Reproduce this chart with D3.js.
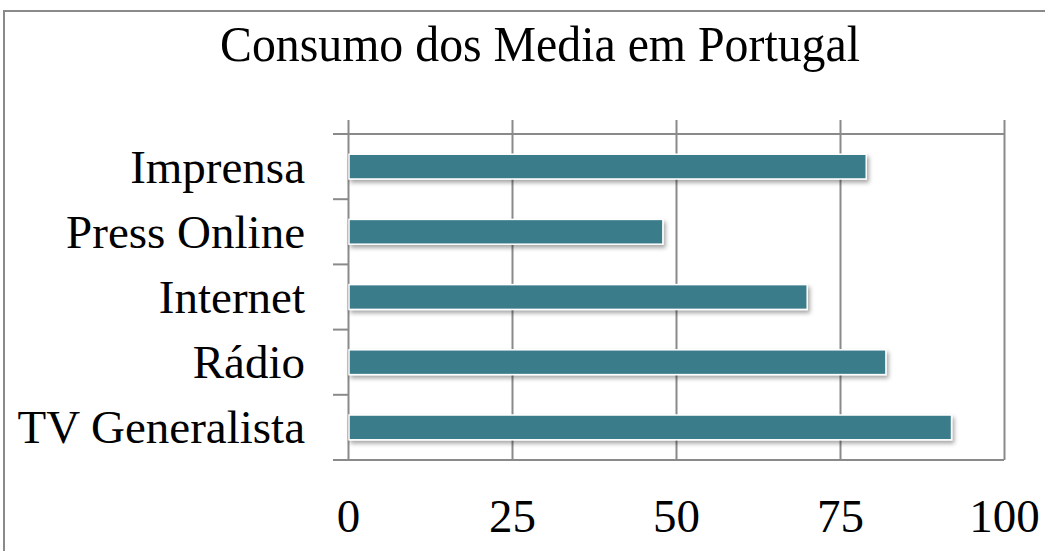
<!DOCTYPE html>
<html>
<head>
<meta charset="utf-8">
<script src="https://cdn.jsdelivr.net/npm/d3@7"></script>
<style>
  body { margin: 0; background: #fff; }
  svg { display: block; }
  text { font-family: "Liberation Serif", "Times New Roman", serif; fill: #000; }
</style>
</head>
<body>
<svg id="chart" width="1045" height="551"></svg>
<script>
// chart data
const categories = ['Imprensa', 'Press Online', 'Internet', 'Rádio', 'TV Generalista'];
const values = [79, 48, 70, 82, 92];
const xTicks = [0, 25, 50, 75, 100];
const title = 'Consumo dos Media em Portugal';

const svg = d3.select('#chart');
const plotLeft = 348, plotRight = 1004, plotTop = 134, plotBottom = 460;
const gridColor = '#8a8a8a';
const barColor = '#3a7b8b';

// outer frame (runs off the page right and bottom)
svg.append('rect')
    .attr('x', 4).attr('y', 11)
    .attr('width', 1100).attr('height', 600)
    .attr('fill', 'none')
    .attr('stroke', gridColor)
    .attr('stroke-width', 2);

svg.append('text')
    .attr('x', 540).attr('y', 61)
    .attr('text-anchor', 'middle')
    .attr('font-size', 50)
    .attr('textLength', 640)
    .attr('lengthAdjust', 'spacingAndGlyphs')
    .text(title);

const x = d3.scaleLinear().domain([0, 100]).range([plotLeft, plotRight]);
const y = d3.scaleBand().domain(categories).range([plotTop, plotBottom])
    .paddingInner(0.62).paddingOuter(0.31);

// shadow for the bars
const defs = svg.append('defs');
const f = defs.append('filter').attr('id', 'shadow')
    .attr('x', '-5%').attr('y', '-50%').attr('width', '110%').attr('height', '200%');
f.append('feDropShadow')
    .attr('dx', 2).attr('dy', 3).attr('stdDeviation', 2)
    .attr('flood-color', '#000').attr('flood-opacity', 0.35);

// x axis with vertical gridlines
const xAxis = svg.append('g')
    .attr('transform', `translate(0,${plotBottom})`)
    .call(d3.axisBottom(x).tickValues(xTicks).tickSize(-(plotBottom - 120)).tickPadding(39));
xAxis.select('.domain').remove();
xAxis.selectAll('line').attr('stroke', gridColor).attr('stroke-width', 2);
xAxis.selectAll('text').attr('font-size', 47).attr('font-family', '"Liberation Serif", serif');

// horizontal lines at top and bottom of plot
[plotTop, plotBottom].forEach(v => {
    svg.append('line')
        .attr('x1', 333).attr('x2', plotRight)
        .attr('y1', v).attr('y2', v)
        .attr('stroke', gridColor).attr('stroke-width', 2);
});

// category separator ticks
const step = y.step();
d3.range(categories.length + 1).forEach(i => {
    const yy = plotTop + i * step;
    svg.append('line')
        .attr('x1', 333).attr('x2', plotLeft)
        .attr('y1', yy).attr('y2', yy)
        .attr('stroke', gridColor).attr('stroke-width', 2);
});

// bars
svg.append('g').selectAll('rect')
    .data(values)
    .enter().append('rect')
    .attr('x', x(0) + 1)
    .attr('y', (d, i) => y(categories[i]))
    .attr('width', d => x(d) - x(0) - 1)
    .attr('height', y.bandwidth())
    .attr('fill', barColor)
    .attr('stroke', '#fff')
    .attr('stroke-width', 1.5)
    .attr('filter', 'url(#shadow)');

// category labels
svg.append('g').selectAll('text')
    .data(categories)
    .enter().append('text')
    .attr('x', 305)
    .attr('y', d => y(d) + y.bandwidth() / 2)
    .attr('dy', '0.34em')
    .attr('text-anchor', 'end')
    .attr('font-size', 47)
    .text(d => d);
</script>
</body>
</html>
